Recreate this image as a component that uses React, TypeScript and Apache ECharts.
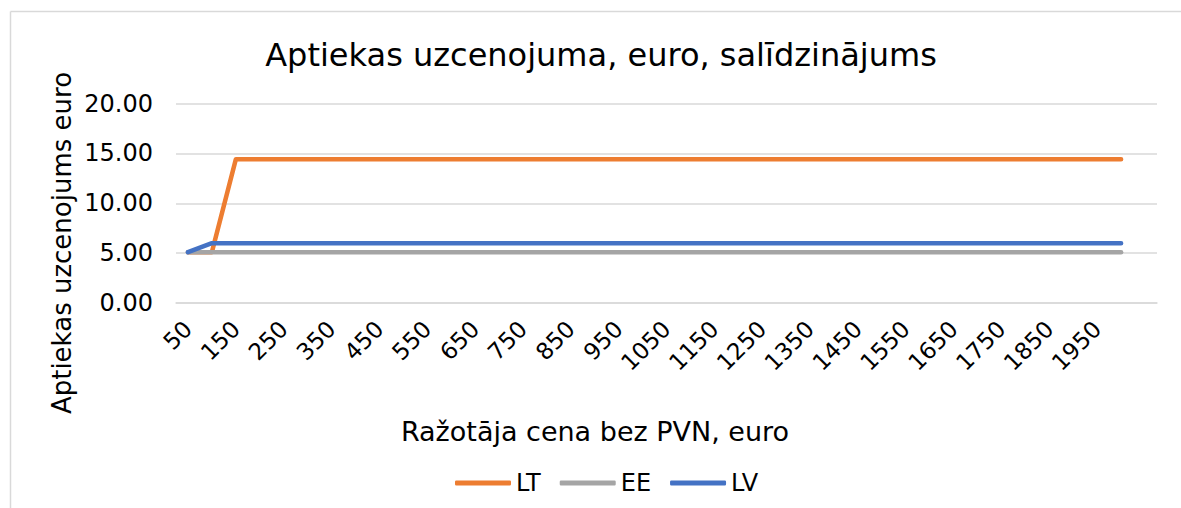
import React, { useEffect, useRef } from "react";
import * as echarts from "echarts";

const categories: string[] = [
  "50", "100", "150", "200", "250", "300", "350", "400", "450", "500",
  "550", "600", "650", "700", "750", "800", "850", "900", "950", "1000",
  "1050", "1100", "1150", "1200", "1250", "1300", "1350", "1400", "1450", "1500",
  "1550", "1600", "1650", "1700", "1750", "1800", "1850", "1900", "1950", "2000",
  "",
];

const ltValues: number[] = [
  5.1, 5.1, 14.4, 14.4, 14.4, 14.4, 14.4, 14.4, 14.4, 14.4,
  14.4, 14.4, 14.4, 14.4, 14.4, 14.4, 14.4, 14.4, 14.4, 14.4,
  14.4, 14.4, 14.4, 14.4, 14.4, 14.4, 14.4, 14.4, 14.4, 14.4,
  14.4, 14.4, 14.4, 14.4, 14.4, 14.4, 14.4, 14.4, 14.4, 14.4,
];

const eeValues: number[] = [
  5.1, 5.1, 5.1, 5.1, 5.1, 5.1, 5.1, 5.1, 5.1, 5.1,
  5.1, 5.1, 5.1, 5.1, 5.1, 5.1, 5.1, 5.1, 5.1, 5.1,
  5.1, 5.1, 5.1, 5.1, 5.1, 5.1, 5.1, 5.1, 5.1, 5.1,
  5.1, 5.1, 5.1, 5.1, 5.1, 5.1, 5.1, 5.1, 5.1, 5.1,
];

const lvValues: number[] = [
  5.1, 6.0, 6.0, 6.0, 6.0, 6.0, 6.0, 6.0, 6.0, 6.0,
  6.0, 6.0, 6.0, 6.0, 6.0, 6.0, 6.0, 6.0, 6.0, 6.0,
  6.0, 6.0, 6.0, 6.0, 6.0, 6.0, 6.0, 6.0, 6.0, 6.0,
  6.0, 6.0, 6.0, 6.0, 6.0, 6.0, 6.0, 6.0, 6.0, 6.0,
];

const seriesNames = ["LT", "EE", "LV"];
const seriesColors = ["#ED7D31", "#A5A5A5", "#4472C4"];

const titleText = "Aptiekas uzcenojuma, euro, salīdzinājums";
const xAxisName = "Ražotāja cena bez PVN, euro";
const yAxisName = "Aptiekas uzcenojums euro";

const FONT = "DejaVu Sans, Verdana, sans-serif";

export default function App() {
  const ref = useRef<HTMLDivElement>(null);

  useEffect(() => {
    document.body.style.margin = "0";
    if (!ref.current) return;
    const chart = echarts.init(ref.current, undefined, { renderer: "svg" });
    const data = [ltValues, eeValues, lvValues];
    chart.setOption({
      animation: false,
      backgroundColor: "#ffffff",
      textStyle: { fontFamily: FONT },
      grid: { left: 176, right: 24, top: 103.5, bottom: 205, containLabel: false },
      legend: {
        data: seriesNames,
        left: 450,
        top: 466,
        icon: "roundRect",
        itemWidth: 56,
        itemHeight: 5,
        itemGap: 19,
        textStyle: { fontSize: 24, color: "#000", fontFamily: FONT },
      },
      graphic: [
        {
          type: "line",
          shape: { x1: 10.5, y1: 11.5, x2: 1190, y2: 11.5 },
          style: { stroke: "#d9d9d9", lineWidth: 1.5 },
          silent: true,
        },
        {
          type: "line",
          shape: { x1: 10.5, y1: 11.5, x2: 10.5, y2: 520 },
          style: { stroke: "#d9d9d9", lineWidth: 1.5 },
          silent: true,
        },
        {
          type: "text",
          x: 601,
          y: 55,
          style: {
            text: titleText,
            fontSize: 32,
            fontFamily: FONT,
            fill: "#000",
            textAlign: "center",
            textVerticalAlign: "middle",
          },
        },
        {
          type: "text",
          x: 595,
          y: 431,
          style: {
            text: xAxisName,
            fontSize: 27,
            fontFamily: FONT,
            fill: "#000",
            textAlign: "center",
            textVerticalAlign: "middle",
          },
        },
        {
          type: "text",
          x: 62,
          y: 243,
          rotation: Math.PI / 2,
          style: {
            text: yAxisName,
            fontSize: 26,
            fontFamily: FONT,
            fill: "#000",
            textAlign: "center",
            textVerticalAlign: "middle",
          },
        },
      ],
      xAxis: {
        type: "category",
        data: categories,
        boundaryGap: true,
        axisLine: { show: true, lineStyle: { color: "#d9d9d9", width: 1.5 } },
        axisTick: { show: false },
        axisLabel: {
          interval: 1,
          rotate: 45,
          fontSize: 23,
          color: "#000",
          fontFamily: FONT,
          margin: 22,
        },
      },
      yAxis: {
        type: "value",
        min: 0,
        max: 20,
        interval: 5,
        axisLine: { show: false },
        axisTick: { show: false },
        splitLine: { lineStyle: { color: "#d9d9d9", width: 1.5 } },
        axisLabel: {
          fontSize: 24,
          color: "#000",
          fontFamily: FONT,
          margin: 23,
          formatter: (v: number) => v.toFixed(2),
        },
      },
      series: seriesNames.map((name, i) => ({
        name,
        type: "line",
        data: data[i],
        showSymbol: false,
        symbol: "none",
        lineStyle: { color: seriesColors[i], width: 4.5, cap: "round", join: "round" },
        itemStyle: { color: seriesColors[i] },
        z: 2 + i,
      })),
    });
    return () => chart.dispose();
  }, []);

  return <div ref={ref} style={{ width: 1181, height: 508 }} />;
}
